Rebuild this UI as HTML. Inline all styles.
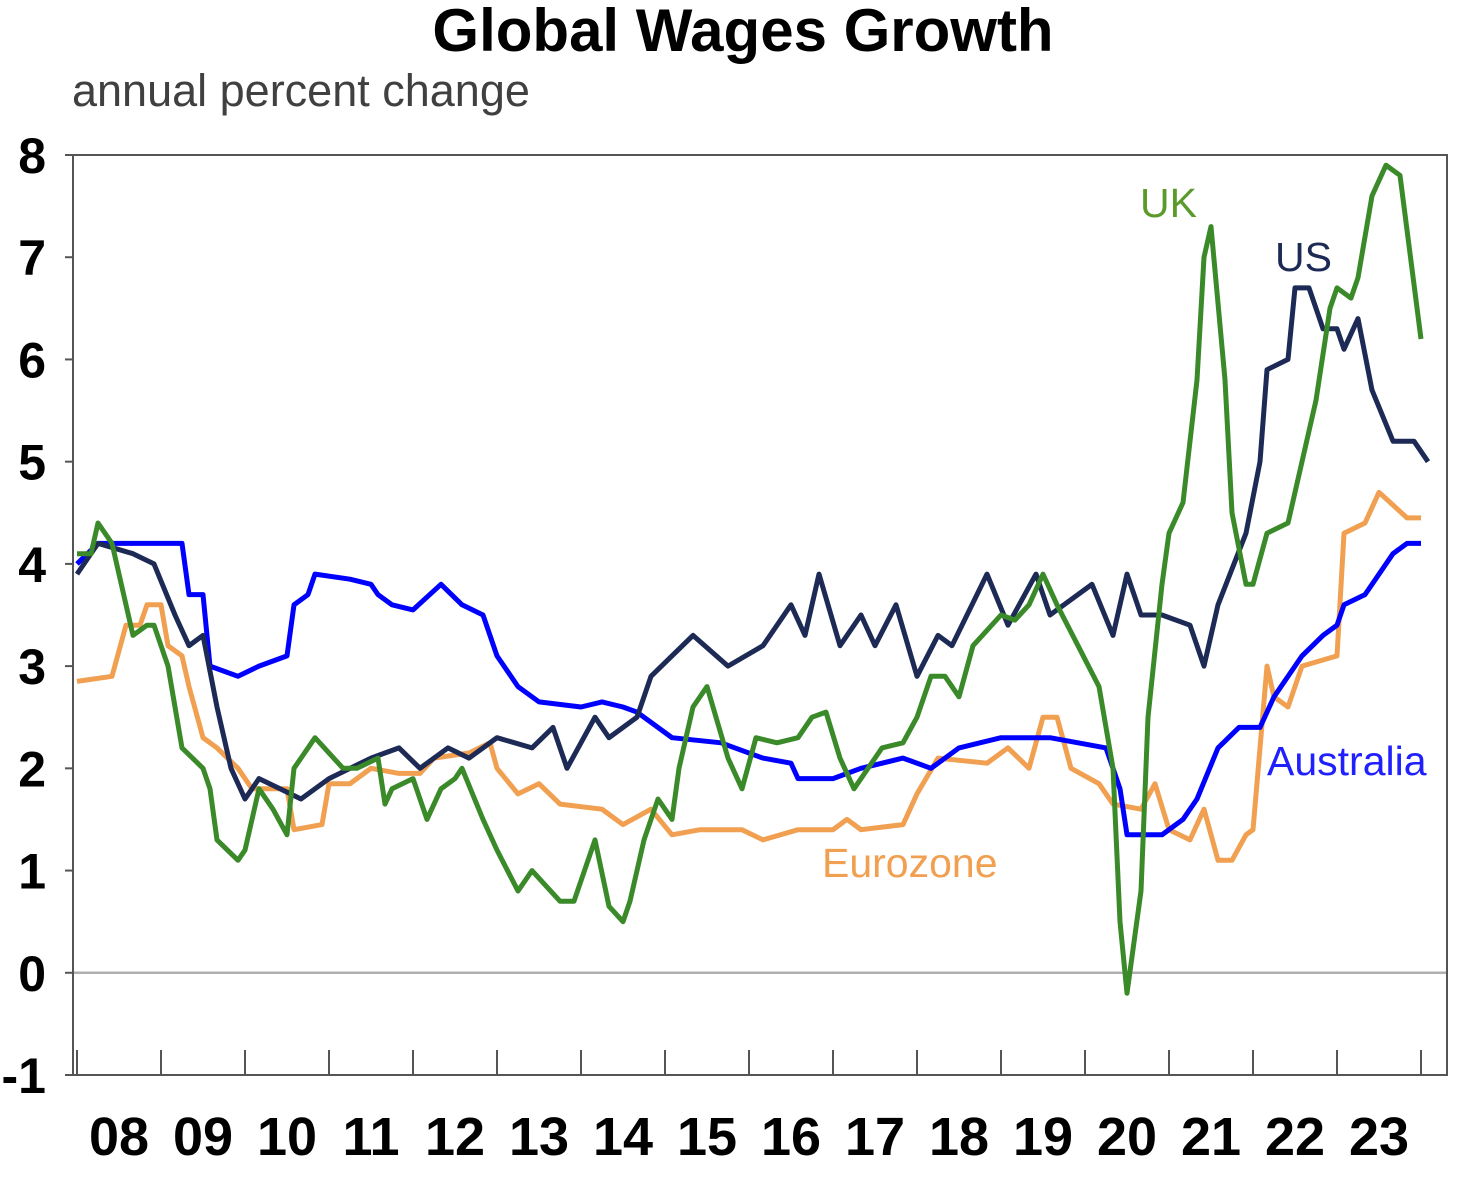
<!DOCTYPE html>
<html><head><meta charset="utf-8"><style>
body{margin:0;background:#fff;}
svg{display:block;font-family:"Liberation Sans",Arial,sans-serif;}
</style></head><body>
<svg id="chart" width="1468" height="1178" viewBox="0 0 1468 1178" xmlns="http://www.w3.org/2000/svg">
<text x="743" y="51" text-anchor="middle" font-size="60" font-weight="bold" fill="#000">Global Wages Growth</text>
<text x="72" y="106" font-size="45" fill="#404040">annual percent change</text>
<g id="axes"></g>
<g id="series"></g>
<g id="labels"></g>
</svg>
<script>
const yTicks=[8,7,6,5,4,3,2,1,0,-1];
const yearLabels=["08","09","10","11","12","13","14","15","16","17","18","19","20","21","22","23"];
// months since Jan 2008
const usMonths=[0,3,8,11,14,16,18,20,22,24,26,29,32,36,42,46,49,53,56,60,65,68,70,74,76,80,82,88,93,98,102,104,106,109,112,114,117,120,123,125,130,133,137,139,145,148,150,152,155,159,161,163,167,169,170,173,174,176,178,180,181,183,185,188,191,193];
const usValues=[3.9,4.2,4.1,4.0,3.5,3.2,3.3,2.6,2.0,1.7,1.9,1.8,1.7,1.9,2.1,2.2,2.0,2.2,2.1,2.3,2.2,2.4,2.0,2.5,2.3,2.5,2.9,3.3,3.0,3.2,3.6,3.3,3.9,3.2,3.5,3.2,3.6,2.9,3.3,3.2,3.9,3.4,3.9,3.5,3.8,3.3,3.9,3.5,3.5,3.4,3.0,3.6,4.3,5.0,5.9,6.0,6.7,6.7,6.3,6.3,6.1,6.4,5.7,5.2,5.2,5.0];
const auMonths=[0,3,6,15,16,18,19,23,26,30,31,33,34,39,42,43,45,48,52,55,58,60,63,66,72,75,78,80,85,92,98,102,103,108,112,118,122,125,126,132,139,147,149,150,155,158,160,163,166,169,171,175,178,180,181,184,188,190,192];
const auValues=[4.0,4.2,4.2,4.2,3.7,3.7,3.0,2.9,3.0,3.1,3.6,3.7,3.9,3.85,3.8,3.7,3.6,3.55,3.8,3.6,3.5,3.1,2.8,2.65,2.6,2.65,2.6,2.55,2.3,2.25,2.1,2.05,1.9,1.9,2.0,2.1,2.0,2.15,2.2,2.3,2.3,2.2,1.8,1.35,1.35,1.5,1.7,2.2,2.4,2.4,2.7,3.1,3.3,3.4,3.6,3.7,4.1,4.2,4.2];
const euMonths=[0,5,7,9,10,12,13,15,16,18,20,23,25,28,30,31,35,36,39,42,46,49,51,56,59,60,63,66,69,75,78,82,85,89,95,98,103,108,110,112,118,120,123,130,133,136,138,140,142,146,148,152,154,156,159,161,163,165,167,168,170,171,173,175,180,181,184,186,190,192];
const euValues=[2.85,2.9,3.4,3.4,3.6,3.6,3.2,3.1,2.8,2.3,2.2,2.0,1.8,1.8,1.8,1.4,1.45,1.85,1.85,2.0,1.95,1.95,2.1,2.15,2.25,2.0,1.75,1.85,1.65,1.6,1.45,1.6,1.35,1.4,1.4,1.3,1.4,1.4,1.5,1.4,1.45,1.75,2.1,2.05,2.2,2.0,2.5,2.5,2.0,1.85,1.65,1.6,1.85,1.4,1.3,1.6,1.1,1.1,1.35,1.4,3.0,2.7,2.6,3.0,3.1,4.3,4.4,4.7,4.45,4.45];
const ukMonths=[0,2,3,5,7,8,10,11,13,15,18,19,20,23,24,26,28,30,31,33,34,38,40,43,44,45,48,50,52,54,55,58,60,63,65,67,69,71,74,76,78,79,81,83,85,86,88,90,93,95,97,100,103,105,107,109,111,115,118,120,122,124,126,128,132,134,136,138,140,143,146,148,149,150,152,153,155,156,158,160,161,162,164,165,167,168,170,173,175,177,179,180,182,183,185,187,189,192];
const ukValues=[4.1,4.1,4.4,4.2,3.6,3.3,3.4,3.4,3.0,2.2,2.0,1.8,1.3,1.1,1.2,1.8,1.6,1.35,2.0,2.2,2.3,2.0,2.0,2.1,1.65,1.8,1.9,1.5,1.8,1.9,2.0,1.5,1.2,0.8,1.0,0.85,0.7,0.7,1.3,0.65,0.5,0.7,1.3,1.7,1.5,2.0,2.6,2.8,2.1,1.8,2.3,2.25,2.3,2.5,2.55,2.1,1.8,2.2,2.25,2.5,2.9,2.9,2.7,3.2,3.5,3.45,3.6,3.9,3.6,3.2,2.8,2.0,0.5,-0.2,0.8,2.5,3.8,4.3,4.6,5.8,7.0,7.3,5.8,4.5,3.8,3.8,4.3,4.4,5.0,5.6,6.5,6.7,6.6,6.8,7.6,7.9,7.8,6.2];

const NS="http://www.w3.org/2000/svg";
const L=73,R=1447,T=155,B=1075,X0=77,PXM=7;
const y=v=>T+(8-v)*(B-T)/9;
const x=m=>X0+m*PXM;
function mk(tag,attrs,parent){const e=document.createElementNS(NS,tag);for(const k in attrs)e.setAttribute(k,attrs[k]);parent.appendChild(e);return e;}
const axes=document.getElementById('axes');
let zl=mk('line',{x1:L,x2:R,y1:y(0),y2:y(0),stroke:'#b0b0b0','stroke-width':2.5},axes);


let fr=mk('rect',{x:L,y:T,width:R-L,height:B-T,fill:'none',stroke:'#555','stroke-width':2},axes);


yTicks.forEach(v=>{
 let t=mk('line',{x1:L-8,x2:L,y1:y(v),y2:y(v),stroke:'#555','stroke-width':2},axes);
 
 
 let tx=mk('text',{x:46,y:y(v)+18,'text-anchor':'end','font-size':50,'font-weight':'bold',fill:'#000'},axes);
 
 
 tx.textContent=v;
});
for(let i=0;i<=yearLabels.length;i++){
 let t=mk('line',{x1:x(i*12),x2:x(i*12),y1:B-25,y2:B,stroke:'#555','stroke-width':2},axes);
 
 
}
yearLabels.forEach((s,i)=>{
 let tx=mk('text',{x:x(i*12+6),y:1155,'text-anchor':'middle','font-size':54,'font-weight':'bold',fill:'#000'},axes);
 
 
 tx.textContent=s;
});
const sg=document.getElementById('series');
function line(ms,vs,color,name){
 const d=ms.map((m,i)=>(i?'L':'M')+x(m).toFixed(1)+','+y(vs[i]).toFixed(1)).join(' ');
 let p=mk('path',{d:d,fill:'none',stroke:color,'stroke-width':5,'stroke-linejoin':'round'},sg);
 
 
}
line(euMonths,euValues,'#f0a050','eurozone-line');
line(auMonths,auValues,'#0000ff','australia-line');
line(usMonths,usValues,'#1c2a55','us-line');
line(ukMonths,ukValues,'#3a8a2a','uk-line');
const lg=document.getElementById('labels');
function lab(t,xx,yy,c,n){let e=mk('text',{x:xx,y:yy,'font-size':41,fill:c},lg);e.textContent=t;}
lab('UK',1140,217,'#5a9a2a','uk-label');
lab('US',1275,271,'#1c2a55','us-label');
lab('Australia',1267,775,'#2020ff','australia-label');
lab('Eurozone',822,877,'#f0a050','eurozone-label');
</script>
</body></html>
